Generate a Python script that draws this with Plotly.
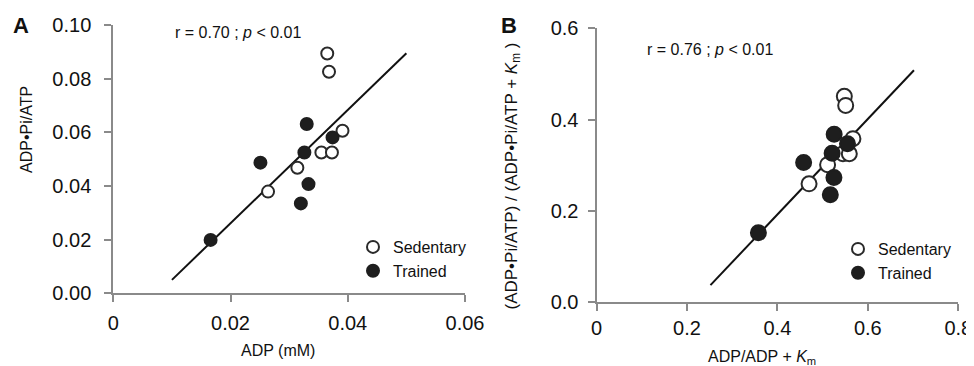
import plotly.graph_objects as go

# ---------------- data ----------------
# Panel A: ADP (mM) vs ADP•Pi/ATP
sed_a_x = [0.0365, 0.0368, 0.0391, 0.0355, 0.0373, 0.0314, 0.0264]
sed_a_y = [0.0894, 0.0826, 0.0606, 0.0525, 0.0525, 0.0468, 0.0379]
tr_a_x = [0.0330, 0.0374, 0.0326, 0.0251, 0.0333, 0.0320, 0.0166]
tr_a_y = [0.0631, 0.0581, 0.0525, 0.0487, 0.0407, 0.0335, 0.0199]
fit_a_x = [0.010, 0.050]
fit_a_y = [0.005, 0.0895]

# Panel B: ADP/ADP+Km vs (ADP•Pi/ATP)/(ADP•Pi/ATP+Km)
sed_b_x = [0.548, 0.551, 0.567, 0.545, 0.559, 0.511, 0.470]
sed_b_y = [0.451, 0.431, 0.358, 0.325, 0.325, 0.301, 0.259]
tr_b_x = [0.5255, 0.555, 0.521, 0.458, 0.525, 0.517, 0.358]
tr_b_y = [0.3675, 0.347, 0.326, 0.306, 0.273, 0.235, 0.152]
fit_b_x = [0.252, 0.702]
fit_b_y = [0.037, 0.508]

a_xticks = [0, 0.02, 0.04, 0.06]
a_xtext = ["0", "0.02", "0.04", "0.06"]
a_yticks = [0, 0.02, 0.04, 0.06, 0.08, 0.10]
a_ytext = ["0.00", "0.02", "0.04", "0.06", "0.08", "0.10"]
b_xticks = [0, 0.2, 0.4, 0.6, 0.8]
b_xtext = ["0", "0.2", "0.4", "0.6", "0.8"]
b_yticks = [0, 0.2, 0.4, 0.6]
b_ytext = ["0.0", "0.2", "0.4", "0.6"]

W, H = 974, 366
OFF = 8  # page body margin offset
def px(x):
    return (x - OFF) / W
def py(y):
    return 1 - (y - OFF) / H

FONT = "Liberation Sans, Arial, Helvetica, sans-serif"
AX = "#8a8a8a"
DARK = "#1e1e1e"

fig = go.Figure()

def add_panel(xa, ya, sx, sy, tx, ty, fx, fy, size, legend):
    fig.add_trace(go.Scatter(x=fx, y=fy, mode="lines", xaxis=xa, yaxis=ya,
                             line=dict(color="#111111", width=2),
                             showlegend=False, hoverinfo="skip"))
    fig.add_trace(go.Scatter(x=sx, y=sy, mode="markers", xaxis=xa, yaxis=ya,
                             name="Sedentary", legend=legend,
                             marker=dict(size=size, color="white",
                                         line=dict(color="#2a2a2a", width=2))))
    fig.add_trace(go.Scatter(x=tx, y=ty, mode="markers", xaxis=xa, yaxis=ya,
                             name="Trained", legend=legend,
                             marker=dict(size=size, color=DARK,
                                         line=dict(color=DARK, width=2))))

add_panel("x", "y", sed_a_x, sed_a_y, tr_a_x, tr_a_y, fit_a_x, fit_a_y, 12, "legend")
add_panel("x2", "y2", sed_b_x, sed_b_y, tr_b_x, tr_b_y, fit_b_x, fit_b_y, 15, "legend2")

axis_common = dict(showline=True, linecolor=AX, linewidth=2, showgrid=False,
                   zeroline=False, ticks="outside", ticklen=7, tickwidth=2,
                   tickcolor=AX, tickfont=dict(family=FONT, size=20, color="#111"),
                   fixedrange=True, automargin=False)

fig.update_layout(
    width=W, height=H, autosize=False,
    margin=dict(l=0, r=0, t=0, b=0, pad=0, autoexpand=False),
    paper_bgcolor="white", plot_bgcolor="white",
    font=dict(family=FONT, color="#111"),
    xaxis=dict(domain=[px(113.3), px(465)], range=[0, 0.06], anchor="y",
               tickvals=a_xticks, ticktext=a_xtext, ticklabelstandoff=4, **axis_common),
    yaxis=dict(domain=[py(293.3), py(25)], range=[0, 0.10], anchor="x",
               tickvals=a_yticks, ticktext=a_ytext, ticklabelstandoff=9, **axis_common),
    xaxis2=dict(domain=[px(596.5), px(958.3)], range=[0, 0.8], anchor="y2",
                tickvals=b_xticks, ticktext=b_xtext, ticklabelstandoff=0, **axis_common),
    yaxis2=dict(domain=[py(302), py(28.3)], range=[0, 0.6], anchor="x2",
                tickvals=b_yticks, ticktext=b_ytext, ticklabelstandoff=5, **axis_common),
    legend=dict(x=px(353), y=py(230), xanchor="left", yanchor="top",
                bgcolor="rgba(0,0,0,0)", font=dict(family=FONT, size=16, color="#111"),
                itemsizing="constant", tracegroupgap=0),
    legend2=dict(x=px(838), y=py(232), xanchor="left", yanchor="top",
                 bgcolor="rgba(0,0,0,0)", font=dict(family=FONT, size=16, color="#111"),
                 itemsizing="constant", tracegroupgap=0),
)

ann = []
def text(x, y, t, size, angle=0):
    ann.append(dict(x=px(x), y=py(y), xref="paper", yref="paper", text=t,
                    showarrow=False, textangle=angle, xanchor="center", yanchor="middle",
                    font=dict(family=FONT, size=size, color="#111")))

text(21, 25, "<b>A</b>", 22)
text(508.5, 25, "<b>B</b>", 22)
text(238, 32.5, "r = 0.70 ; <i>p</i> < 0.01", 16)
text(710, 49.5, "r = 0.76 ; <i>p</i> < 0.01", 16)
text(27, 130, "ADP•Pi/ATP", 16, angle=-90)
text(278, 350, "ADP (mM)", 16)
text(512, 176.5, "(ADP•Pi/ATP) / (ADP•Pi/ATP + <i>K</i><sub>m</sub> )", 17, angle=-90)
text(762, 357, "ADP/ADP + <i>K</i><sub>m</sub>", 16)
fig.update_layout(annotations=ann)

fig.write_html("out.html")
